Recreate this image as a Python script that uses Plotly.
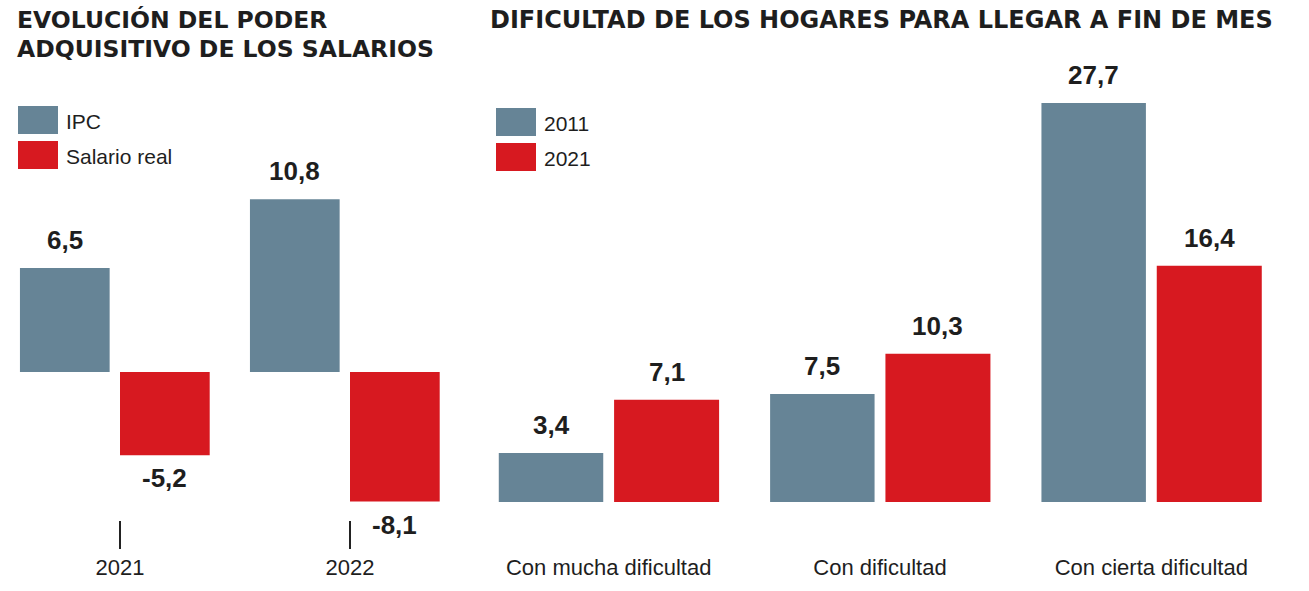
import plotly.graph_objects as go

W, H = 1309, 591

# ---- data ----
left_years = ["2021", "2022"]
ipc = [6.5, 10.8]
salario_real = [-5.2, -8.1]

right_cats = ["Con mucha dificultad", "Con dificultad", "Con cierta dificultad"]
hog_2011 = [3.4, 7.5, 27.7]
hog_2021 = [7.1, 10.3, 16.4]

GRAY = "#668496"
RED = "#d71920"
TXT = "#1e1e1e"
FONT = "Liberation Sans"
TFONT = "DejaVu Sans"

def px(x):
    return x / W

def py(y):
    return 1 - y / H

def fmt(v):
    return f"{v:.1f}".replace(".", ",")

fig = go.Figure()

lx = list(range(len(left_years)))
l_series = [("IPC", ipc, GRAY, -0.435, 0.39), ("Salario real", salario_real, RED, 0.0, 0.39)]
for name, vals, col, off, wd in l_series:
    fig.add_trace(go.Bar(x=lx, y=vals, name=name, marker=dict(color=col, line=dict(width=0)),
                         offset=off, width=wd, xaxis="x", yaxis="y", showlegend=False,
                         hoverinfo="skip"))
    for xi, v in zip(lx, vals):
        fig.add_annotation(x=xi + off + wd / 2, y=v, xref="x", yref="y", text=fmt(v),
                           showarrow=False, yanchor="middle", yshift=28 if v >= 0 else -23,
                           font=dict(family=FONT, size=26, color=TXT, weight="bold"))

rx = list(range(len(right_cats)))
r_series = [("2011", hog_2011, GRAY, -0.405, 0.385), ("2021", hog_2021, RED, 0.02, 0.387)]
for name, vals, col, off, wd in r_series:
    fig.add_trace(go.Bar(x=rx, y=vals, name=name, marker=dict(color=col, line=dict(width=0)),
                         offset=off, width=wd, xaxis="x2", yaxis="y2", showlegend=False,
                         hoverinfo="skip"))
    for xi, v in zip(rx, vals):
        fig.add_annotation(x=xi + off + wd / 2, y=v, xref="x2", yref="y2", text=fmt(v),
                           showarrow=False, yanchor="middle", yshift=28 if v >= 0 else -23,
                           font=dict(family=FONT, size=26, color=TXT, weight="bold"))

# titles
fig.add_annotation(x=px(16), y=py(20), xref="paper", yref="paper", xanchor="left", yanchor="middle",
                   text="EVOLUCIÓN DEL PODER", showarrow=False, borderpad=0,
                   font=dict(family=TFONT, size=23.5, color=TXT, weight="bold"))
fig.add_annotation(x=px(16), y=py(49), xref="paper", yref="paper", xanchor="left", yanchor="middle",
                   text="ADQUISITIVO DE LOS SALARIOS", showarrow=False, borderpad=0,
                   font=dict(family=TFONT, size=23.5, color=TXT, weight="bold"))
fig.add_annotation(x=px(488), y=py(20), xref="paper", yref="paper", xanchor="left", yanchor="middle",
                   text="DIFICULTAD DE LOS HOGARES PARA LLEGAR A FIN DE MES", showarrow=False,
                   font=dict(family=TFONT, size=24, color=TXT, weight="bold"))

# custom legends
legends = [
    (18, 106, l_series[0][2], l_series[0][0]),
    (18, 141, l_series[1][2], l_series[1][0]),
    (496, 108, r_series[0][2], r_series[0][0]),
    (496, 143, r_series[1][2], r_series[1][0]),
]
for x0, y0, col, label in legends:
    fig.add_shape(type="rect", xref="paper", yref="paper", x0=px(x0), x1=px(x0 + 40),
                  y0=py(y0), y1=py(y0 + 28), fillcolor=col, line=dict(width=0))
    fig.add_annotation(x=px(x0 + 46), y=py(y0 + 15), xref="paper", yref="paper",
                       xanchor="left", yanchor="middle", text=label, showarrow=False,
                       font=dict(family=FONT, size=21, color=TXT))

bottom = 520
lscale = 16.0
ly0 = 372
rscale = 14.4
ry0 = 502

fig.update_layout(
    width=W, height=H,
    margin=dict(l=0, r=0, t=0, b=0),
    paper_bgcolor="white", plot_bgcolor="white",
    showlegend=False,
    xaxis=dict(domain=[0, px(470)], range=[-120 / 230, 1 + 120 / 230],
               tickmode="array", tickvals=lx, ticktext=left_years,
               ticks="outside", ticklen=28, tickwidth=2, tickcolor="#222",
               showgrid=False, zeroline=False, showline=False,
               tickfont=dict(family=FONT, size=22, color=TXT), fixedrange=True),
    yaxis=dict(domain=[1 - bottom / H, 1],
               range=[-(bottom - ly0) / lscale, ly0 / lscale],
               showgrid=False, zeroline=False, showline=False, showticklabels=False,
               fixedrange=True),
    xaxis2=dict(domain=[px(473), px(1287)], range=[-0.5, 2.5], anchor="y2",
                tickmode="array", tickvals=rx, ticktext=right_cats,
                ticks="outside", ticklen=28, tickcolor="rgba(0,0,0,0)",
                showgrid=False, zeroline=False, showline=False,
                tickfont=dict(family=FONT, size=22, color=TXT), fixedrange=True),
    yaxis2=dict(domain=[1 - bottom / H, 1], anchor="x2",
                range=[-(bottom - ry0) / rscale, ry0 / rscale],
                showgrid=False, zeroline=False, showline=False, showticklabels=False,
                fixedrange=True),
)

fig.write_html("out.html", config={"displayModeBar": False, "staticPlot": True},
               post_script="document.body.style.margin='0px';document.body.style.overflow='hidden';")
